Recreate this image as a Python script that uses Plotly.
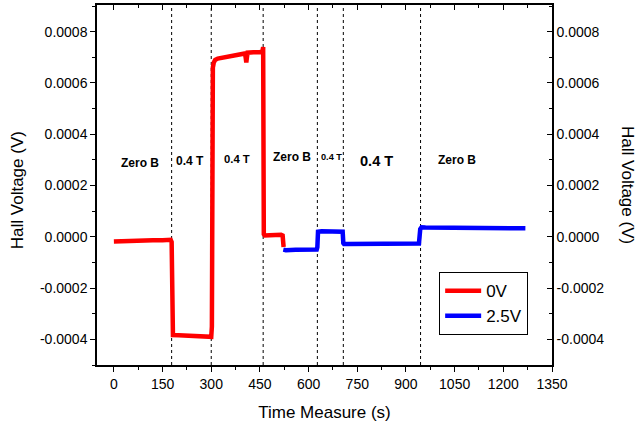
import plotly.graph_objects as go

# ---- data ----
t_0V = [0, 30, 60, 90, 120, 150, 175, 178, 180, 182, 200, 230, 260, 290, 300, 302,
        303, 305, 308, 312, 320, 340, 360, 380, 400, 404, 406, 408, 410, 412, 430,
        450, 458, 460, 462, 465, 480, 500, 515, 520, 523]
v_0V = [-0.000018, -0.000016, -0.000015, -0.000014, -0.000013, -0.000013, -0.000012,
        -0.00002, -0.00038, -0.000383, -0.000384, -0.000386, -0.000388, -0.00039,
        -0.00039, -0.00035, 0.00062, 0.00066, 0.00068, 0.00069, 0.000695, 0.0007,
        0.000705, 0.00071, 0.000712, 0.000715, 0.0007, 0.00068, 0.0007, 0.000718,
        0.00072, 0.00072, 0.000725, 0.00074, 0.00001, 0.000005, 0.000006, 0.000008,
        0.000008, 0.000005, -0.00004]

t_25V = [522, 530, 560, 600, 625, 627, 629, 640, 670, 700, 705, 707, 709, 720, 780,
         840, 900, 940, 944, 946, 948, 960, 1050, 1150, 1200, 1268]
v_25V = [-0.00005, -0.000052, -0.000051, -0.000051, -0.00005, -0.00004, 0.00002,
         0.000022, 0.000022, 0.000022, 0.00002, -0.000025, -0.000028, -0.000028,
         -0.000028, -0.000027, -0.000027, -0.000026, 0.00003, 0.000036, 0.000037,
         0.000036, 0.000035, 0.000034, 0.000034, 0.000033]

boundaries = [178, 300, 460, 627, 707, 945]

region_labels = ["Zero B", "0.4 T", "0.4 T", "Zero B", "0.4 T", "0.4 T", "Zero B"]
region_x = [81, 235, 380, 549, 672, 810, 1057]
region_y = [0.000288, 0.000296, 0.000304, 0.000312, 0.000312, 0.000296, 0.0003]
region_size = [12, 12, 11.3, 12, 9.2, 14.6, 12]

x_ticks = list(range(0, 1351, 150))
y_ticks = [-0.0004, -0.0002, 0.0, 0.0002, 0.0004, 0.0006, 0.0008]
y_tick_text = ["-0.0004", "-0.0002", "0.0000", "0.0002", "0.0004", "0.0006", "0.0008"]

x_range = [-52, 1350]
y_range = [-0.0005, 0.000904]

FONT = "Arial, Liberation Sans, sans-serif"

fig = go.Figure()
fig.add_trace(go.Scatter(x=t_0V, y=v_0V, mode="lines", name="0V",
                         line=dict(color="#ff0000", width=4.5)))
fig.add_trace(go.Scatter(x=t_25V, y=v_25V, mode="lines", name="2.5V",
                         line=dict(color="#0000ff", width=4.5)))
# invisible trace to activate top / right axes
fig.add_trace(go.Scatter(x=[x_range[0]], y=[y_range[0]], xaxis="x2", yaxis="y2",
                         mode="markers", marker=dict(opacity=0), showlegend=False,
                         hoverinfo="skip"))

for b in boundaries:
    fig.add_shape(type="line", xref="x", yref="paper", x0=b, x1=b, y0=0, y1=1,
                  line=dict(color="black", width=1, dash="dot"), layer="below")

for lab, xx, yy, sz in zip(region_labels, region_x, region_y, region_size):
    fig.add_annotation(x=xx, y=yy, xref="x", yref="y", text="<b>%s</b>" % lab,
                       showarrow=False, font=dict(family=FONT, size=sz, color="black"))

axis_common = dict(showline=True, linecolor="black", linewidth=1.5, showgrid=False,
                   zeroline=False, tickcolor="black", ticklen=5, tickwidth=1.3,
                   automargin=False)

fig.update_layout(
    width=640, height=428,
    margin=dict(l=97, r=88, t=5, b=63),
    paper_bgcolor="white", plot_bgcolor="white",
    font=dict(family=FONT, color="black", size=14),
    xaxis=dict(range=x_range, tickvals=x_ticks, ticks="outside",
               tickfont=dict(size=14),
               title=dict(text="Time Measure (s)", font=dict(size=17), standoff=16),
               minor=dict(ticks="outside", dtick=75, tick0=0, ticklen=3, tickcolor="black"),
               **axis_common),
    xaxis2=dict(range=x_range, overlaying="x", side="top", tickvals=x_ticks,
                ticks="inside", showticklabels=False,
                minor=dict(ticks="inside", dtick=75, tick0=0, ticklen=3, tickcolor="black"),
                **axis_common),
    yaxis=dict(range=y_range, tickvals=y_ticks, ticktext=y_tick_text, ticks="outside",
               tickfont=dict(size=14),
               minor=dict(ticks="outside", dtick=0.0001, tick0=0, ticklen=3, tickcolor="black"),
               **axis_common),
    yaxis2=dict(range=y_range, overlaying="y", side="right", tickvals=y_ticks,
                ticktext=y_tick_text, ticks="inside", tickfont=dict(size=14),
                minor=dict(ticks="inside", dtick=0.0001, tick0=0, ticklen=3, tickcolor="black"),
                **axis_common),
    legend=dict(x=0.752, y=0.258, xanchor="left", yanchor="top",
                bordercolor="black", borderwidth=1, bgcolor="white",
                font=dict(size=17), tracegroupgap=0, itemwidth=36,
                entrywidth=94, entrywidthmode="pixels"),
    showlegend=True,
)

fig.add_annotation(text="Hall Voltage (V)", xref="paper", yref="paper",
                   x=-0.174, y=0.485, textangle=-90, showarrow=False,
                   font=dict(size=17), xanchor="center", yanchor="middle")
fig.add_annotation(text="Hall Voltage (V)", xref="paper", yref="paper",
                   x=1.167, y=0.5, textangle=90, showarrow=False,
                   font=dict(size=17), xanchor="center", yanchor="middle")

fig.write_html("out.html", config={"displayModeBar": False},
               post_script="document.body.style.margin='0';")
